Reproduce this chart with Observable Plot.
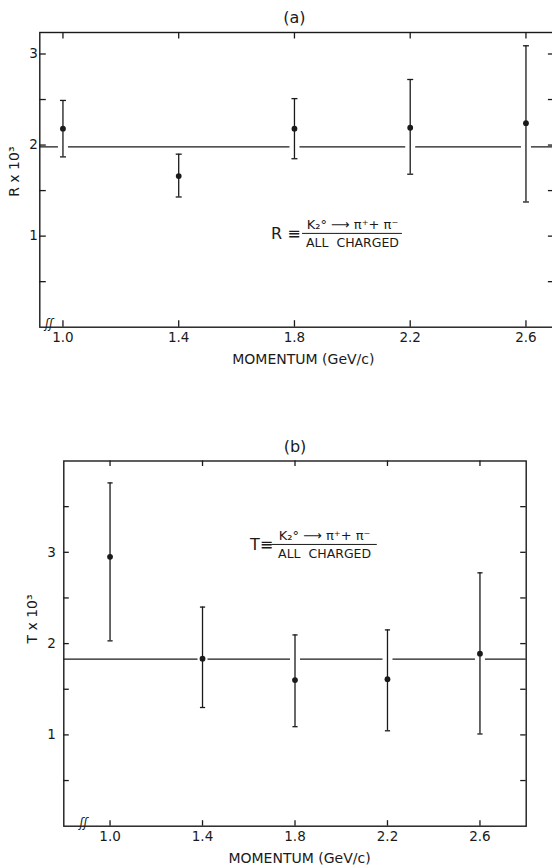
<!DOCTYPE html>
<html><head><meta charset="utf-8">
<script src="https://cdn.jsdelivr.net/npm/d3@7"></script>
<script src="https://cdn.jsdelivr.net/npm/@observablehq/plot@0.6"></script>
<style>
html,body{margin:0;padding:0;background:#fff;overflow:hidden;width:552px;height:865px;position:relative}
#a,#b{position:absolute;left:0}
#a{top:0}
#b{top:430px}
svg{font-family:"DejaVu Sans",sans-serif;overflow:hidden;max-width:none !important}
</style></head><body><div id="a"></div><div id="b"></div>
<script>
// ---- data ----
const momentum = [1.0, 1.4, 1.8, 2.2, 2.6];
// panel (a): R x 10^3
const rValue = [2.18, 1.66, 2.18, 2.19, 2.24];
const rLow   = [1.87, 1.43, 1.85, 1.68, 1.375];
const rHigh  = [2.49, 1.90, 2.51, 2.72, 3.09];
const rMean  = 1.98;
// panel (b): T x 10^3
const tValue = [2.95, 1.835, 1.60, 1.61, 1.89];
const tLow   = [2.03, 1.30, 1.09, 1.045, 1.01];
const tHigh  = [3.76, 2.40, 2.095, 2.15, 2.775];
const tMean  = 1.83;
// ticks
const xTicks = [1.0, 1.4, 1.8, 2.2, 2.6];
const yLabelTicks = [1, 2, 3];
const yMinorTicksA = [0.5, 1, 1.5, 2, 2.5, 3];
const yMinorTicksB = [0.5, 1, 1.5, 2, 2.5, 3, 3.5];
// annotation anchors (data units)
const formulaA = {sym: "R ≡", symX: 1.77, x1: 1.828, x2: 2.173, y: 1.03};
const formulaB = {sym: "T≡", symX: 1.655, x1: 1.70, x2: 2.156, y: 3.086};
const breakA = 0.952, breakB = 0.885;

const ink = "#1a1a1a";
const cap = {draw(c, s) { const r = Math.sqrt(s / Math.PI); c.moveTo(-r, 0); c.lineTo(r, 0); }};

function panel(cfg) {
  const rows = momentum.map((m, i) => ({m, v: cfg.value[i], lo: cfg.low[i], hi: cfg.high[i]}));
  const crossing = rows.filter(d => d.lo < cfg.mean && d.hi > cfg.mean);
  const W = cfg.width, H = cfg.height;
  const pw = W - cfg.ml - cfg.mr, ph = H - cfg.mt - cfg.mb;
  const tl = cfg.tick;
  const f = cfg.formula;
  return Plot.plot({
    width: W, height: H,
    marginTop: cfg.mt, marginBottom: cfg.mb, marginLeft: cfg.ml, marginRight: cfg.mr,
    x: {domain: cfg.xDomain},
    y: {domain: cfg.yDomain},
    style: {fontFamily: "DejaVu Sans, sans-serif", color: ink, background: "white", maxWidth: "none"},
    marks: [
      Plot.ruleY([cfg.mean], {stroke: ink, strokeWidth: 1.3}),
      Plot.ruleX(crossing, {x: "m", y1: cfg.mean - cfg.gap, y2: cfg.mean + cfg.gap, stroke: "white", strokeWidth: 10}),
      Plot.ruleX(rows, {x: "m", y1: "lo", y2: "hi", stroke: ink, strokeWidth: 1.3}),
      Plot.dot(rows, {x: "m", y: "lo", symbol: cap, r: cfg.capR, stroke: ink, strokeWidth: 1.3, fill: "none"}),
      Plot.dot(rows, {x: "m", y: "hi", symbol: cap, r: cfg.capR, stroke: ink, strokeWidth: 1.3, fill: "none"}),
      Plot.dot(rows, {x: "m", y: "v", r: 2.9, fill: ink, stroke: null}),
      Plot.frame({stroke: ink, strokeWidth: 1.4}),
      // inward ticks
      Plot.tickX(xTicks, {x: d => d, insetTop: ph - tl, stroke: ink, strokeWidth: 1.3}),
      Plot.tickX(xTicks, {x: d => d, insetBottom: ph - tl, stroke: ink, strokeWidth: 1.3}),
      Plot.tickY(cfg.minor, {y: d => d, insetRight: pw - tl, stroke: ink, strokeWidth: 1.3}),
      Plot.tickY(cfg.minor, {y: d => d, insetLeft: pw - tl, stroke: ink, strokeWidth: 1.3}),
      // tick labels
      Plot.axisX(xTicks, {anchor: "bottom", tickSize: 0, tickPadding: cfg.xPad, tickFormat: d => d.toFixed(1), fontSize: 13.5, label: null, fill: ink}),
      Plot.axisY(yLabelTicks, {anchor: "left", tickSize: 0, tickPadding: cfg.yPad, tickFormat: d => String(d), fontSize: 13.5, label: null, fill: ink}),
      // axis break
      Plot.text(["ʃʃ"], {x: cfg.brk, y: cfg.yDomain[0], fontSize: 12, fontStyle: "italic", fill: ink, dy: -3, lineAnchor: "middle"}),
      // titles
      Plot.text([cfg.title], {frameAnchor: "top", dy: cfg.titleDy, dx: cfg.titleDx, fontSize: 16, fill: ink, lineAnchor: "middle"}),
      Plot.text(["MOMENTUM (GeV/c)"], {frameAnchor: "bottom", dy: cfg.xLabelDy, dx: cfg.xLabelDx, fontSize: 14, fill: ink, lineAnchor: "middle", style: "letter-spacing:1.6px"}),
      Plot.text([cfg.yLabel], {frameAnchor: "left", dx: cfg.yLabelDx, dy: cfg.yLabelDy, rotate: -90, fontSize: 14, fill: ink, lineAnchor: "middle"}),
      // formula
      Plot.text([f.sym], {x: f.symX, y: f.y, fontSize: 16, fill: ink, lineAnchor: "middle"}),
      Plot.ruleY([f.y], {x1: f.x1, x2: f.x2, stroke: ink, strokeWidth: 1}),
      Plot.text(["K₂° ⟶ π⁺+ π⁻"], {x: (f.x1 + f.x2) / 2, y: f.y, dy: -9, fontSize: 13, fill: ink, lineAnchor: "middle"}),
      Plot.text(["ALL  CHARGED"], {x: (f.x1 + f.x2) / 2, y: f.y, dy: 10, fontSize: 12.5, fill: ink, lineAnchor: "middle", style: "letter-spacing:0.8px"})
    ]
  });
}

document.getElementById("a").append(panel({
  width: 556, height: 380, mt: 32, mb: 53.3, ml: 39.3, mr: 1.6,
  xDomain: [0.92, 2.7], yDomain: [0, 3.236],
  value: rValue, low: rLow, high: rHigh, mean: rMean, gap: 0.035,
  minor: yMinorTicksA, tick: 6.5, capR: 3, xPad: 5, yPad: 2,
  brk: breakA, title: "(a)", titleDy: -15, titleDx: -3,
  xLabelDy: 32, xLabelDx: 6, yLabel: "R x 10³", yLabelDx: -25, yLabelDy: 17,
  formula: formulaA
}));

document.getElementById("b").append(panel({
  width: 552, height: 435, mt: 30.5, mb: 39.3, ml: 63.3, mr: 26.3,
  xDomain: [0.8, 2.8], yDomain: [0, 4],
  value: tValue, low: tLow, high: tHigh, mean: tMean, gap: 0.035,
  minor: yMinorTicksB, tick: 5.5, capR: 2.6, xPad: 5, yPad: 8,
  brk: breakB, title: "(b)", titleDy: -13.7, titleDx: 0,
  xLabelDy: 32.3, xLabelDx: 4.5, yLabel: "T x 10³", yLabelDx: -31.6, yLabelDy: 0,
  formula: formulaB
}));
</script></body></html>
